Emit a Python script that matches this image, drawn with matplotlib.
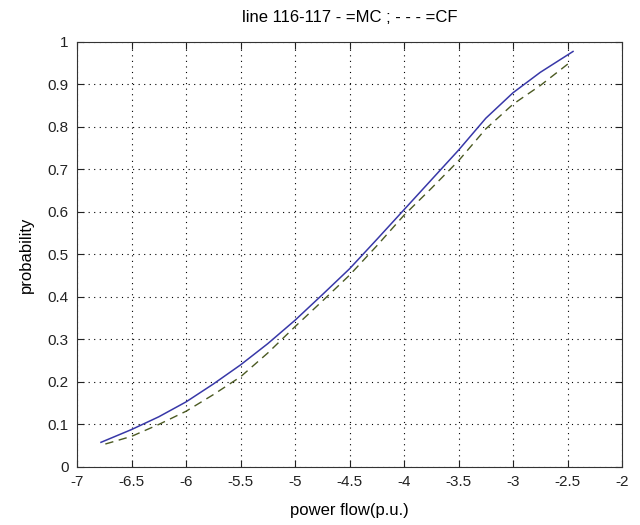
import numpy as np
import matplotlib
matplotlib.use('Agg')
import matplotlib.pyplot as plt

plt.rcParams['font.family'] = ['Liberation Sans', 'DejaVu Sans']

# MC curve (solid)
mc_x = [-6.78, -6.5, -6.25, -6.0, -5.75, -5.5, -5.25, -5.0, -4.75, -4.5,
        -4.25, -4.0, -3.75, -3.5, -3.25, -3.0, -2.75, -2.45]
mc_y = [0.058, 0.088, 0.118, 0.153, 0.195, 0.240, 0.290, 0.345, 0.405, 0.466,
        0.535, 0.605, 0.675, 0.745, 0.820, 0.880, 0.928, 0.977]

# CF curve (dashed)
cf_x = [-6.74, -6.5, -6.25, -6.0, -5.75, -5.5, -5.25, -5.0, -4.75, -4.5,
        -4.25, -4.0, -3.75, -3.5, -3.25, -3.0, -2.75, -2.46]
cf_y = [0.054, 0.072, 0.100, 0.131, 0.170, 0.212, 0.268, 0.330, 0.390, 0.451,
        0.520, 0.592, 0.655, 0.720, 0.795, 0.853, 0.897, 0.955]

x_ticks = [-7, -6.5, -6, -5.5, -5, -4.5, -4, -3.5, -3, -2.5, -2]
y_ticks = [0, 0.1, 0.2, 0.3, 0.4, 0.5, 0.6, 0.7, 0.8, 0.9, 1]

fig = plt.figure(figsize=(6.4, 5.25), dpi=100)
ax = fig.add_axes([0.1203, 0.1105, 0.8517, 0.8101])

ax.plot(mc_x, mc_y, '-', color='#3838a8', lw=1.1)
ax.plot(cf_x, cf_y, '--', color='#4b5a22', lw=1.0, dashes=(6, 4))

ax.set_xlim(-7, -2)
ax.set_ylim(0, 1)
ax.set_xticks(x_ticks)
ax.set_xticklabels([f'{v:g}' for v in x_ticks])
ax.set_yticks(y_ticks)
ax.set_yticklabels([f'{v:g}' for v in y_ticks])
ax.grid(True, linestyle=(0, (1, 4)), color='black', lw=0.8)
ax.tick_params(direction='in', top=True, right=True, length=5, pad=6,
               labelsize=11, colors='#222222')
for s in ax.spines.values():
    s.set_color('#333333')

ax.set_title('line 116-117 - =MC ; - - - =CF', fontsize=12, pad=14)
ax.set_xlabel('power flow(p.u.)', fontsize=12, labelpad=10)
ax.set_ylabel('probability', fontsize=12, labelpad=10)

fig.savefig('out.png', dpi=100)
